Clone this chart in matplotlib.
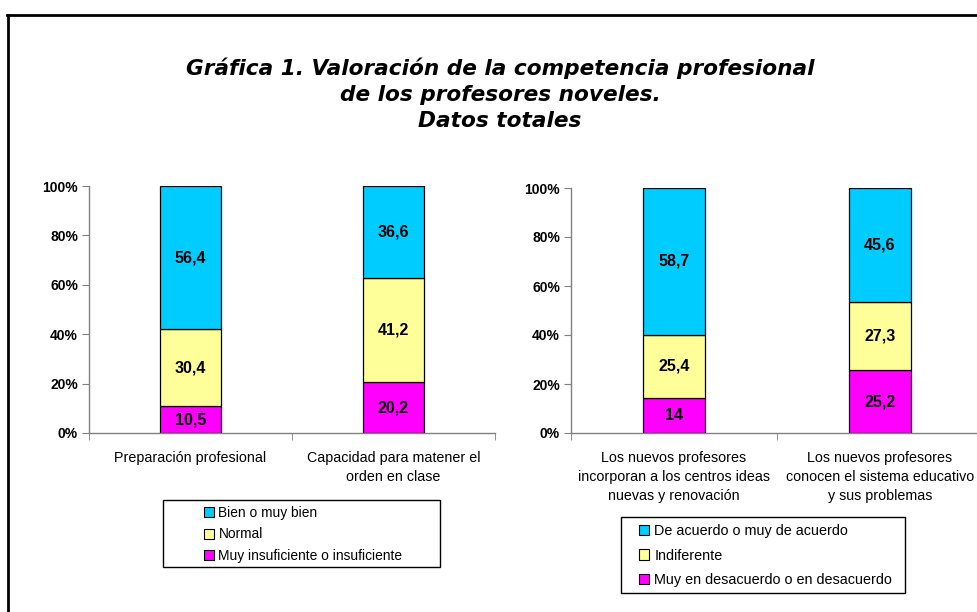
import matplotlib
matplotlib.use("Agg")
import matplotlib.pyplot as plt
from matplotlib.patches import Rectangle, Patch
from matplotlib.lines import Line2D
import numpy as np

# ---- data ----
title = "Gráfica 1. Valoración de la competencia profesional\nde los profesores noveles.\nDatos totales"

left_categories = ["Preparación profesional", "Capacidad para matener el\norden en clase"]
left_series = ["Bien o muy bien", "Normal", "Muy insuficiente o insuficiente"]
left_low = [10.5, 20.2]
left_mid = [30.4, 41.2]
left_high = [56.4, 36.6]

right_categories = ["Los nuevos profesores\nincorporan a los centros ideas\nnuevas y renovación",
                    "Los nuevos profesores\nconocen el sistema educativo\ny sus problemas"]
right_series = ["De acuerdo o muy de acuerdo", "Indiferente", "Muy en desacuerdo o en desacuerdo"]
right_low = [14, 25.2]
right_mid = [25.4, 27.3]
right_high = [58.7, 45.6]

yticks = [0, 20, 40, 60, 80, 100]
ytick_labels = ["0%", "20%", "40%", "60%", "80%", "100%"]

colors = ["#00CCFF", "#FFFF99", "#FF00FF"]  # high, mid, low

W, H = 978, 612
fig = plt.figure(figsize=(W / 100, H / 100), dpi=100)
fig.patch.set_facecolor("white")

FONT = "Liberation Sans"


def fx(px):
    return px / W


def fy(py):
    return 1 - py / H


def draw_panel(rect, cats, low, mid, high):
    ax = fig.add_axes(rect)
    x = np.arange(len(cats))
    totals = [l + m + h for l, m, h in zip(low, mid, high)]
    lp = [100 * v / t for v, t in zip(low, totals)]
    mp = [100 * v / t for v, t in zip(mid, totals)]
    hp = [100 * v / t for v, t in zip(high, totals)]
    w = 0.3
    ax.bar(x, lp, w, color=colors[2], edgecolor="black", linewidth=0.9, zorder=3)
    ax.bar(x, mp, w, bottom=lp, color=colors[1], edgecolor="black", linewidth=0.9, zorder=3)
    bot2 = [a + b for a, b in zip(lp, mp)]
    ax.bar(x, hp, w, bottom=bot2, color=colors[0], edgecolor="black", linewidth=0.9, zorder=3)
    for i in range(len(cats)):
        for val, b, h in ((low[i], 0, lp[i]), (mid[i], lp[i], mp[i]), (high[i], bot2[i], hp[i])):
            s = f"{val:g}".replace(".", ",")
            ax.text(x[i], b + h / 2, s, ha="center", va="center", fontsize=11.5,
                    fontweight="bold", family=FONT, zorder=4)
    ax.set_xlim(-0.5, len(cats) - 0.5)
    ax.set_ylim(0, 100)
    ax.set_yticks(yticks)
    ax.set_yticklabels(ytick_labels, fontsize=10, fontweight="bold", family=FONT)
    ax.set_xticks(x)
    ax.set_xticklabels(cats, fontsize=10.3, family=FONT, linespacing=1.47)
    ax.tick_params(axis="x", which="major", length=0, pad=13)
    ax.set_xticks(np.arange(len(cats) + 1) - 0.5, minor=True)
    ax.tick_params(axis="x", which="minor", length=5, direction="out", color="#808080")
    ax.tick_params(axis="y", length=5, direction="out", color="#808080", pad=3)
    for s in ("top", "right"):
        ax.spines[s].set_visible(False)
    for s in ("left", "bottom"):
        ax.spines[s].set_color("#808080")
        ax.spines[s].set_linewidth(1.0)
    ax.set_facecolor("none")
    return ax


axL = draw_panel([fx(89), fy(433), fx(406), (433 - 186) / H], left_categories, left_low, left_mid, left_high)
axR = draw_panel([fx(571), fy(433), fx(412), (433 - 188) / H], right_categories, right_low, right_mid, right_high)

# title
fig.text(fx(500), fy(94), title, ha="center", va="center", fontsize=15.6,
         fontweight="bold", style="italic", family="DejaVu Sans", linespacing=1.36)

# outer frame
fig.add_artist(Line2D([fx(7), 1.0], [fy(15), fy(15)], color="black", linewidth=2))
fig.add_artist(Line2D([fx(8), fx(8)], [fy(15), 0], color="black", linewidth=2))


def draw_legend(labels, box, fontsize, spacing):
    x0, y0, x1, y1 = box
    fig.add_artist(Rectangle((fx(x0), fy(y1)), fx(x1 - x0), (y1 - y0) / H, transform=fig.transFigure,
                             facecolor="white", edgecolor="black", linewidth=1))
    handles = [Patch(facecolor=c, edgecolor="black", linewidth=0.8) for c in colors]
    leg = fig.legend(handles, labels, loc="center left",
                     bbox_to_anchor=(fx(x0), fy((y0 + y1) / 2)),
                     frameon=False, prop={"family": FONT, "size": fontsize},
                     handlelength=0.7, handleheight=0.7, handletextpad=0.35,
                     labelspacing=spacing, borderpad=0, borderaxespad=0)
    return leg


legL = draw_legend(left_series, (163, 500, 440, 567), 9.9, 0.55)
legR = draw_legend(right_series, (621, 517, 905, 593), 10.4, 0.72)

fig.canvas.draw()
# shift legends so markers sit at the observed x positions
for leg, mx, ymid in ((legL, 204, 534.5), (legR, 639, 555.5)):
    bb = leg.get_window_extent()
    lb = leg.legend_handles[0].get_window_extent()
    dx = mx - lb.x0
    x0 = bb.x0 + dx
    leg.set_bbox_to_anchor((x0 / W, fy(ymid)), transform=fig.transFigure)

fig.savefig("out.png", dpi=100)
